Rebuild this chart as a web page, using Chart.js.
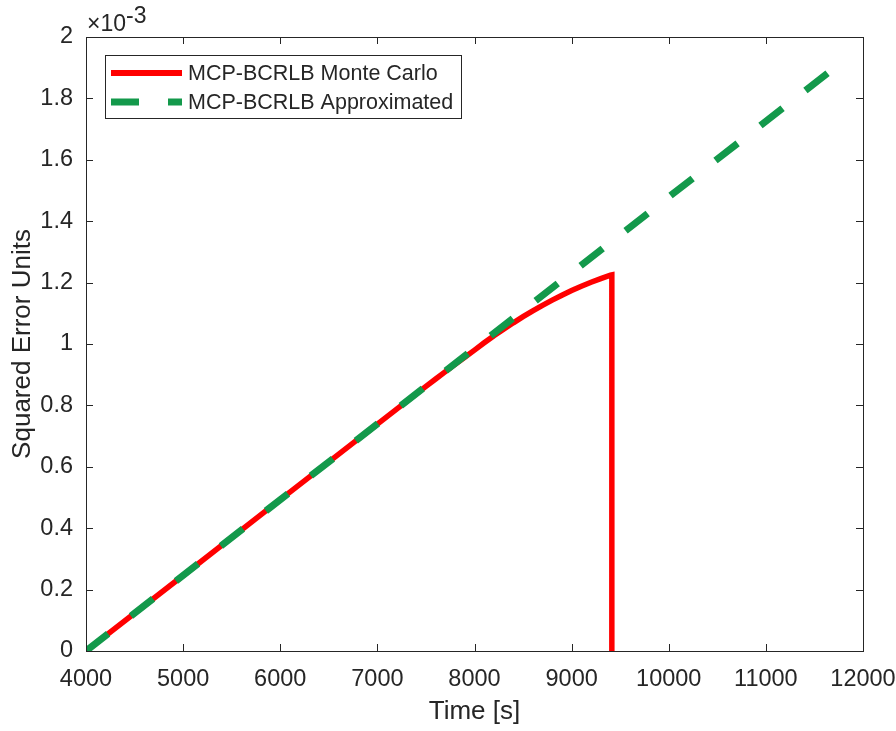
<!DOCTYPE html>
<html lang="en">
<head>
  <meta charset="UTF-8">
  <title>MCP-BCRLB</title>
  <script src="https://cdn.jsdelivr.net/npm/chart.js"></script>
  <style>
    * { margin: 0; padding: 0; box-sizing: border-box; }
    body { background: #ffffff; width: 896px; height: 731px; overflow: hidden; }
    .chart-container { position: relative; width: 896px; height: 731px; }
  </style>
</head>
<body>
  <div class="chart-container">
    <canvas id="errChart"></canvas>
  </div>

  <script>
    // values are in units of 1e-3 (the axis shows "x10^-3")
    const mcTime = [4000, 5000, 6000, 7000, 7500, 7600, 7700, 7800, 7900, 8000, 8100, 8200, 8300, 8400,
                    8500, 8600, 8700, 8800, 8900, 9000, 9100, 9200, 9300, 9400, 9414, 9414];
    const mcError = [0, 0.246, 0.493, 0.739, 0.862, 0.886, 0.910, 0.934, 0.957, 0.980, 1.004, 1.027, 1.048, 1.069,
                     1.089, 1.108, 1.126, 1.143, 1.159, 1.174, 1.188, 1.201, 1.213, 1.224, 1.225, 0];
    const approxTime = [4000, 11640];
    const approxError = [0, 1.883];
    const xTicks = [4000, 5000, 6000, 7000, 8000, 9000, 10000, 11000, 12000];
    const yTicks = [0, 0.2, 0.4, 0.6, 0.8, 1, 1.2, 1.4, 1.6, 1.8, 2];

    const legendItems = [
      { label: 'MCP-BCRLB Monte Carlo', color: '#ff0000', dash: [] },
      { label: 'MCP-BCRLB Approximated', color: '#13994b', dash: [28, 29] }
    ];

    const FONT = "'Liberation Sans', Arial, Helvetica, sans-serif";
    const AXIS = '#262626';

    const toPoints = (xs, ys) => xs.map((x, i) => ({ x: x, y: ys[i] }));

    // box, inward ticks, exponent label, legend
    const matlabAxes = {
      id: 'matlabAxes',
      afterDraw(chart) {
        const { ctx, chartArea: a, scales } = chart;
        ctx.save();
        ctx.strokeStyle = AXIS;
        ctx.lineWidth = 1;
        ctx.strokeRect(a.left + 0.5, a.top + 0.5, a.right - a.left, a.bottom - a.top);
        const tl = 7;
        ctx.beginPath();
        xTicks.forEach(t => {
          const px = Math.round(scales.x.getPixelForValue(t)) + 0.5;
          ctx.moveTo(px, a.bottom); ctx.lineTo(px, a.bottom - tl);
          ctx.moveTo(px, a.top); ctx.lineTo(px, a.top + tl);
        });
        yTicks.forEach(t => {
          const py = Math.round(scales.y.getPixelForValue(t)) + 0.5;
          ctx.moveTo(a.left, py); ctx.lineTo(a.left + tl, py);
          ctx.moveTo(a.right, py); ctx.lineTo(a.right - tl, py);
        });
        ctx.stroke();

        // x10^-3
        ctx.fillStyle = AXIS;
        ctx.textBaseline = 'alphabetic';
        ctx.textAlign = 'left';
        ctx.font = '23px ' + FONT;
        ctx.fillText('\u00d710', a.left + 1, 31);
        const w = ctx.measureText('\u00d710').width;
        ctx.fillText('-3', a.left + 1 + w, 23);

        // legend
        const lx = a.left + 19, ly = a.top + 18, lw = 356, lh = 63;
        ctx.fillStyle = '#ffffff';
        ctx.fillRect(lx, ly, lw, lh);
        ctx.strokeStyle = AXIS;
        ctx.strokeRect(lx + 0.5, ly + 0.5, lw, lh);
        ctx.font = '21.5px ' + FONT;
        ctx.textBaseline = 'middle';
        legendItems.forEach((it, i) => {
          const y = ly + 18 + i * 29;
          ctx.strokeStyle = it.color;
          ctx.lineWidth = i === 0 ? 6 : 7;
          ctx.setLineDash(it.dash);
          ctx.beginPath();
          ctx.moveTo(lx + 6, y); ctx.lineTo(lx + 77, y);
          ctx.stroke();
          ctx.setLineDash([]);
          ctx.fillStyle = AXIS;
          ctx.fillText(it.label, lx + 83, y + 1);
        });
        ctx.restore();
      }
    };

    const ctx = document.getElementById('errChart').getContext('2d');
    const errChart = new Chart(ctx, {
      type: 'line',
      data: {
        datasets: [
          {
            label: 'MCP-BCRLB Monte Carlo',
            data: toPoints(mcTime, mcError),
            borderColor: '#ff0000',
            borderWidth: 5.5,
            pointRadius: 0,
            tension: 0,
            order: 1
          },
          {
            label: 'MCP-BCRLB Approximated',
            data: toPoints(approxTime, approxError),
            borderColor: '#13994b',
            borderWidth: 7,
            borderDash: [28, 29],
            borderCapStyle: 'butt',
            pointRadius: 0,
            tension: 0,
            order: 0
          }
        ]
      },
      options: {
        responsive: true,
        maintainAspectRatio: false,
        animation: false,
        layout: { padding: { top: 37, right: 33, left: 0, bottom: 0 } },
        plugins: {
          legend: { display: false },
          tooltip: { enabled: false }
        },
        scales: {
          x: {
            type: 'linear',
            min: 4000, max: 12000,
            afterFit: s => { s.height = 80; s.paddingRight = 0; s.paddingLeft = 0; },
            afterBuildTicks: s => { s.ticks = xTicks.map(v => ({ value: v })); },
            grid: { display: false, drawTicks: false },
            border: { display: false },
            ticks: {
              autoSkip: false, maxRotation: 0, padding: 14, color: AXIS, font: { family: FONT, size: 23.5 },
              callback: v => String(v)
            },
            title: { display: true, text: 'Time [s]', color: AXIS, padding: 4, font: { family: FONT, size: 26 } }
          },
          y: {
            min: 0, max: 2,
            afterFit: s => { s.width = 86; },
            afterBuildTicks: s => { s.ticks = yTicks.map(v => ({ value: v })); },
            grid: { display: false, drawTicks: false },
            border: { display: false },
            ticks: {
              padding: 13, color: AXIS, font: { family: FONT, size: 23.5 },
              callback: v => String(Number(v.toFixed(1)))
            },
            title: { display: true, text: 'Squared Error Units', color: AXIS, padding: 7, font: { family: FONT, size: 26 } }
          }
        }
      },
      plugins: [matlabAxes]
    });
  </script>
</body>
</html>
